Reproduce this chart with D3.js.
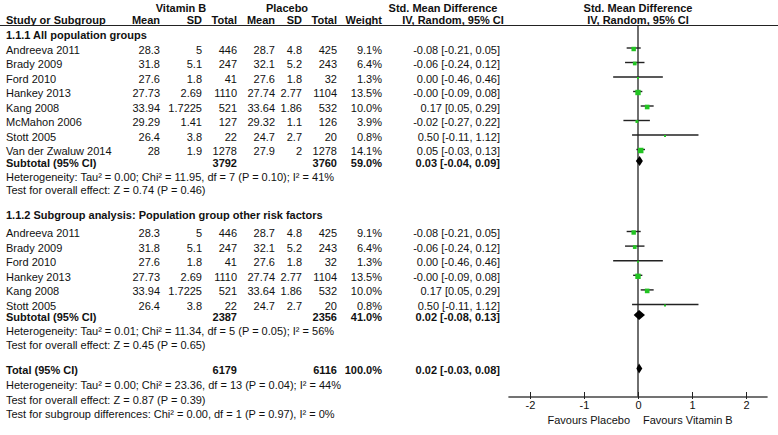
<!DOCTYPE html>
<html>
<head>
<meta charset="utf-8">
<script src="https://cdn.jsdelivr.net/npm/d3@7"></script>
<style>
  body { margin: 0; background: #fff; }
  svg text { font-family: Arial, "Liberation Sans", sans-serif; font-size: 11px; fill: #111; }
  .b { font-weight: bold; }
</style>
</head>
<body>
<div id="chart"></div>
<script>
// Study rows for each subgroup
const group1Studies = ["Andreeva 2011", "Brady 2009", "Ford 2010", "Hankey 2013", "Kang 2008", "McMahon 2006", "Stott 2005", "Van der Zwaluw 2014"];
const group1VitMean = ["28.3", "31.8", "27.6", "27.73", "33.94", "29.29", "26.4", "28"];
const group1VitSD = ["5", "5.1", "1.8", "2.69", "1.7225", "1.41", "3.8", "1.9"];
const group1VitN = [446, 247, 41, 1110, 521, 127, 22, 1278];
const group1PlaMean = ["28.7", "32.1", "27.6", "27.74", "33.64", "29.32", "24.7", "27.9"];
const group1PlaSD = ["4.8", "5.2", "1.8", "2.77", "1.86", "1.1", "2.7", "2"];
const group1PlaN = [425, 243, 32, 1104, 532, 126, 20, 1278];
const group1Weight = [9.1, 6.4, 1.3, 13.5, 10.0, 3.9, 0.8, 14.1];
const group1Est = ["-0.08", "-0.06", "0.00", "-0.00", "0.17", "-0.02", "0.50", "0.05"];
const group1Lo = [-0.21, -0.24, -0.46, -0.09, 0.05, -0.27, -0.11, -0.03];
const group1Hi = [0.05, 0.12, 0.46, 0.08, 0.29, 0.22, 1.12, 0.13];

// subgroup 2 uses studies 0-4 and 6 of the list above
const group2Index = [0, 1, 2, 3, 4, 6];

// Subtotals / total: [vitN, plaN, weight, est, lo, hi]
const subtotal1 = [3792, 3760, 59.0, 0.03, -0.04, 0.09];
const subtotal2 = [2387, 2356, 41.0, 0.02, -0.08, 0.13];
const overall = [6179, 6116, 100.0, 0.02, -0.03, 0.08];

const group1Notes = ["Heterogeneity: Tau² = 0.00; Chi² = 11.95, df = 7 (P = 0.10); I² = 41%", "Test for overall effect: Z = 0.74 (P = 0.46)"];
const group2Notes = ["Heterogeneity: Tau² = 0.01; Chi² = 11.34, df = 5 (P = 0.05); I² = 56%", "Test for overall effect: Z = 0.45 (P = 0.65)"];
const totalNotes = ["Heterogeneity: Tau² = 0.00; Chi² = 23.36, df = 13 (P = 0.04); I² = 44%", "Test for overall effect: Z = 0.87 (P = 0.39)", "Test for subgroup differences: Chi² = 0.00, df = 1 (P = 0.97), I² = 0%"];

const axisTicks = [-2, -1, 0, 1, 2];

const width = 778, height = 435;

const svg = d3.select("#chart").append("svg")
    .attr("width", width)
    .attr("height", height);

// effect scale for the forest plot
const x = d3.scaleLinear().domain([-2, 2]).range([530, 746]);
const sq = d3.scaleSqrt().domain([0, 14.1]).range([0, 5.5]);

const fmt2 = v => d3.format(".2f")(v).replace(/−/g, "-");
const fmtCI = (e, l, h) => `${typeof e === "string" ? e : fmt2(e)} [${fmt2(l)}, ${fmt2(h)}]`;
const fmtW = w => d3.format(".1f")(w) + "%";

// column right edges
const col = {mean1: 160, sd1: 202, n1: 237, mean2: 275, sd2: 302, n2: 337, w: 382, ci: 500};

function txt(xp, y, s, anchor, bold) {
    svg.append("text")
        .attr("x", xp).attr("y", y + 4)
        .attr("text-anchor", anchor || "start")
        .attr("class", bold ? "b" : null)
        .text(s);
}

// Header
txt(181, 8, "Vitamin B", "middle", true);
txt(287, 8, "Placebo", "middle", true);
txt(443, 8, "Std. Mean Difference", "middle", true);
txt(x(0), 8, "Std. Mean Difference", "middle", true);
txt(6, 19.5, "Study or Subgroup", "start", true);
txt(col.mean1, 19.5, "Mean", "end", true);
txt(col.sd1, 19.5, "SD", "end", true);
txt(col.n1, 19.5, "Total", "end", true);
txt(col.mean2, 19.5, "Mean", "end", true);
txt(col.sd2, 19.5, "SD", "end", true);
txt(col.n2, 19.5, "Total", "end", true);
txt(col.w, 19.5, "Weight", "end", true);
txt(453, 19.5, "IV, Random, 95% CI", "middle", true);
txt(x(0), 19.5, "IV, Random, 95% CI", "middle", true);

svg.append("line")
    .attr("x1", 0).attr("x2", width)
    .attr("y1", 25.5).attr("y2", 25.5)
    .attr("stroke", "#222").attr("stroke-width", 1.2);

const axisY = 397;

// zero line
svg.append("line")
    .attr("x1", x(0)).attr("x2", x(0))
    .attr("y1", 25.5).attr("y2", axisY)
    .attr("stroke", "#222").attr("stroke-width", 1.3);

function studyRow(i, y) {
    txt(6, y, group1Studies[i]);
    txt(col.mean1, y, group1VitMean[i], "end");
    txt(col.sd1, y, group1VitSD[i], "end");
    txt(col.n1, y, group1VitN[i], "end");
    txt(col.mean2, y, group1PlaMean[i], "end");
    txt(col.sd2, y, group1PlaSD[i], "end");
    txt(col.n2, y, group1PlaN[i], "end");
    txt(col.w, y, fmtW(group1Weight[i]), "end");
    txt(col.ci, y, fmtCI(group1Est[i], group1Lo[i], group1Hi[i]), "end");

    const my = y - 1.5;
    svg.append("line")
        .attr("x1", x(group1Lo[i])).attr("x2", x(group1Hi[i]))
        .attr("y1", my).attr("y2", my)
        .attr("stroke", "#222").attr("stroke-width", 1.4);
    const s = Math.max(2, sq(group1Weight[i]));
    svg.append("rect")
        .attr("x", x(+group1Est[i]) - s / 2)
        .attr("y", my - s / 2 + 1)
        .attr("width", s).attr("height", s)
        .attr("fill", "#22c422");
}

function totalRow(label, d, y) {
    txt(6, y, label, "start", true);
    txt(col.n1, y, d[0], "end", true);
    txt(col.n2, y, d[1], "end", true);
    txt(col.w, y, fmtW(d[2]), "end", true);
    txt(col.ci, y, fmtCI(d[3], d[4], d[5]), "end", true);
    const my = y - 1.5, h = 5;
    svg.append("path")
        .attr("d", `M${x(d[4])},${my} L${x(d[3])},${my - h} L${x(d[5])},${my} L${x(d[3])},${my + h} Z`)
        .attr("fill", "#000");
}

// Subgroup 1
txt(6, 34.5, "1.1.1 All population groups", "start", true);
group1Studies.forEach((d, i) => studyRow(i, 49.5 + 14.5 * i));
totalRow("Subtotal (95% CI)", subtotal1, 162.5);
txt(6, 177, group1Notes[0]);
txt(6, 190, group1Notes[1]);

// Subgroup 2
txt(6, 214.5, "1.1.2 Subgroup analysis: Population group other risk factors", "start", true);
group2Index.forEach((idx, k) => studyRow(idx, 233 + 14.6 * k));
totalRow("Subtotal (95% CI)", subtotal2, 316.5);
txt(6, 331, group2Notes[0]);
txt(6, 345, group2Notes[1]);

// Overall
totalRow("Total (95% CI)", overall, 370);
totalNotes.forEach((n, i) => txt(6, 385 + 14.5 * i, n));

// Axis
const axis = svg.append("g")
    .attr("transform", `translate(0,${axisY})`)
    .call(d3.axisBottom(x).tickValues(axisTicks).tickSize(-5).tickFormat(d3.format("d")));
axis.select(".domain")
    .attr("d", `M${x(-2.4)},0H${x(2.4)}`)
    .attr("stroke", "#444").attr("stroke-width", 1.6);
axis.selectAll(".tick line").attr("stroke", "#222").attr("y2", 2).attr("y1", -5);
axis.selectAll(".tick text")
    .attr("y", 4)
    .style("font-size", "11px")
    .style("font-family", "Arial, 'Liberation Sans', sans-serif")
    .attr("fill", "#111")
    .text(d => d < 0 ? "-" + Math.abs(d) : d);

txt(x(0) - 8, 420, "Favours Placebo", "end");
txt(x(0) + 5, 420, "Favours Vitamin B", "start");
</script>
</body>
</html>
